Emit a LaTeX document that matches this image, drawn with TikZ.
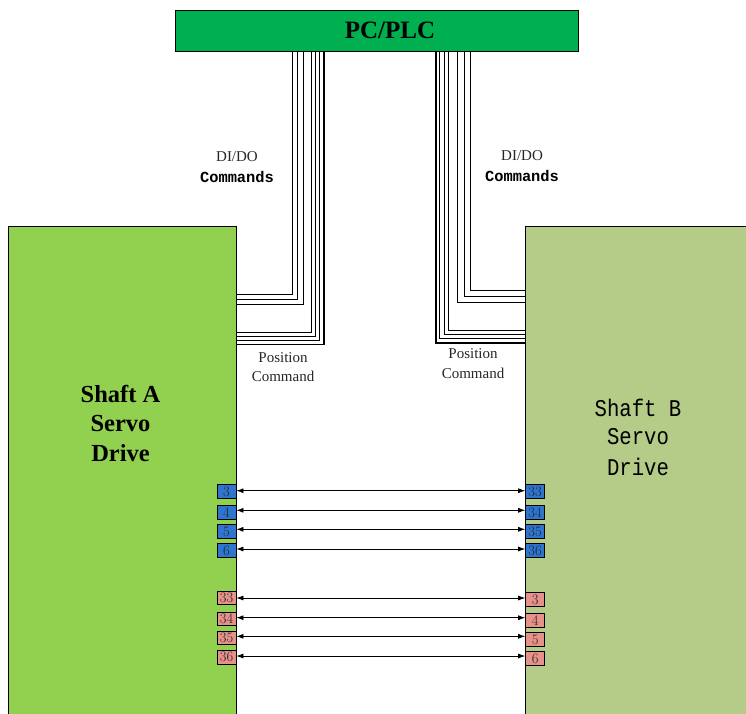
\documentclass[tikz,border=0pt]{standalone}
\usepackage{fontspec}
\setmainfont{Liberation Serif}
\newfontfamily\slabfont{Liberation Mono}
\newfontfamily\slabnarrow[FakeStretch=.86]{Liberation Mono}
\newfontfamily\pinfont{Latin Modern Roman}
\usetikzlibrary{arrows.meta}
\definecolor{pcgreen}{HTML}{00B050}
\definecolor{driveA}{HTML}{92D050}
\definecolor{driveB}{HTML}{B5CB88}
\definecolor{pinblue}{HTML}{2E75D0}
\definecolor{pinpink}{HTML}{E6928A}
\tikzset{
  drive/.style={draw=black,line width=.8pt,inner sep=0pt,anchor=north west},
  pin/.style={draw=black,line width=.8pt,inner sep=0pt,anchor=north west,text=black!85,font=\pinfont\fontsize{14.5}{14.5}\selectfont,minimum width=19pt},
  wire/.style={draw=black,line width=.9pt},
  thickwire/.style={draw=black,line width=1.7pt},
  link/.style={draw=black,line width=.7pt,{Latex[length=7pt,width=5pt]}-{Latex[length=7pt,width=5pt]}},
  lab/.style={inner sep=0pt,align=center,font=\fontsize{15}{15}\selectfont,text=black!85},
  cmd/.style={inner sep=0pt,font=\slabfont\bfseries\fontsize{15.4}{15.4}\selectfont},
  titleA/.style={inner sep=0pt,font=\bfseries\fontsize{24.5}{24.5}\selectfont},
  titleB/.style={inner sep=0pt,font=\slabnarrow\fontsize{24}{24}\selectfont},
}
\begin{document}
\begin{tikzpicture}[x=1pt,y=-1pt]
\useasboundingbox (0,0) rectangle (746,713);
\clip (0,0) rectangle (746,713);
\node[drive,fill=pcgreen,minimum width=403pt,minimum height=41pt] (pc) at (174.6,9.8) {};
\node[inner sep=0pt,font=\bfseries\fontsize{25}{25}\selectfont] (pctext) at (390,30) {PC/PLC};
\node[drive,fill=driveA,minimum width=227.5pt,minimum height=520pt] (shaftA) at (8.4,226) {};
\node[drive,fill=driveB,minimum width=240pt,minimum height=520pt] (shaftB) at (525.2,226) {};
% wires
\foreach \i/\x/\y/\s in {1/292.7/294.7/wire,2/297.3/299.3/wire,3/303/304.7/wire,4/311.7/332.7/wire,5/315.3/336.7/wire,6/319.3/340.7/wire,7/323.7/344.5/thickwire}{
  \coordinate (la\i) at (\x,\y);
  \draw[\s] (pc.south -| la\i) -- (la\i) -- (shaftA.east |- la\i);
}
\foreach \i/\x/\y/\s in {1/470.7/290/wire,2/464/296.7/wire,3/457.7/302.3/wire,4/448.3/330.7/wire,5/444/334.3/wire,6/439.8/338.3/wire,7/436/342.7/thickwire}{
  \coordinate (lb\i) at (\x,\y);
  \draw[\s] (pc.south -| lb\i) -- (lb\i) -- (shaftB.west |- lb\i);
}
% pins
\foreach \n/\t/\y/\h/\c in {a1/3/484.3/13.4/pinblue,a2/4/505/14/pinblue,a3/5/524.3/14/pinblue,a4/6/543.3/14/pinblue,a5/33/590.7/13.6/pinpink,a6/34/611.7/13.4/pinpink,a7/35/630.7/13.6/pinpink,a8/36/649.7/14/pinpink}{
  \node[pin,fill=\c,minimum height=\h pt] (\n) at (216.6,\y) {\t};
}
\foreach \n/\t/\y/\h/\c in {b1/33/484.3/14/pinblue,b2/34/505/14/pinblue,b3/35/524.3/14/pinblue,b4/36/543.3/14/pinblue,b5/3/592.3/14/pinpink,b6/4/613/14.3/pinpink,b7/5/632.3/14/pinpink,b8/6/651.3/14/pinpink}{
  \node[pin,fill=\c,minimum height=\h pt] (\n) at (525.2,\y) {\t};
}
% links
\foreach \i/\y in {1/490.7,2/510.3,3/529.3,4/549,5/598,6/617.7,7/636.3,8/656}{
  \coordinate (r\i) at (0,\y);
  \draw[link] (a\i.east |- r\i) -- (b\i.west |- r\i);
}
% labels
\node[lab] (didoL) at (237,156.5) {DI/DO};
\node[cmd] (cmdL) at (237,177) {Commands};
\node[lab] (didoR) at (522,156) {DI/DO};
\node[cmd] (cmdR) at (522,176) {Commands};
\node[lab] (posL) at (283,358) {Position};
\node[lab] (comL) at (283,376) {Command};
\node[lab] (posR) at (473,354) {Position};
\node[lab] (comR) at (473,373) {Command};
\node[titleA] (a1t) at (120.5,394) {Shaft A};
\node[titleA] (a2t) at (120.5,423) {Servo};
\node[titleA] (a3t) at (120.5,453) {Drive};
\node[titleB] (b1t) at (638,408) {Shaft B};
\node[titleB] (b2t) at (638,437) {Servo};
\node[titleB] (b3t) at (638,467) {Drive};
\end{tikzpicture}
\end{document}
